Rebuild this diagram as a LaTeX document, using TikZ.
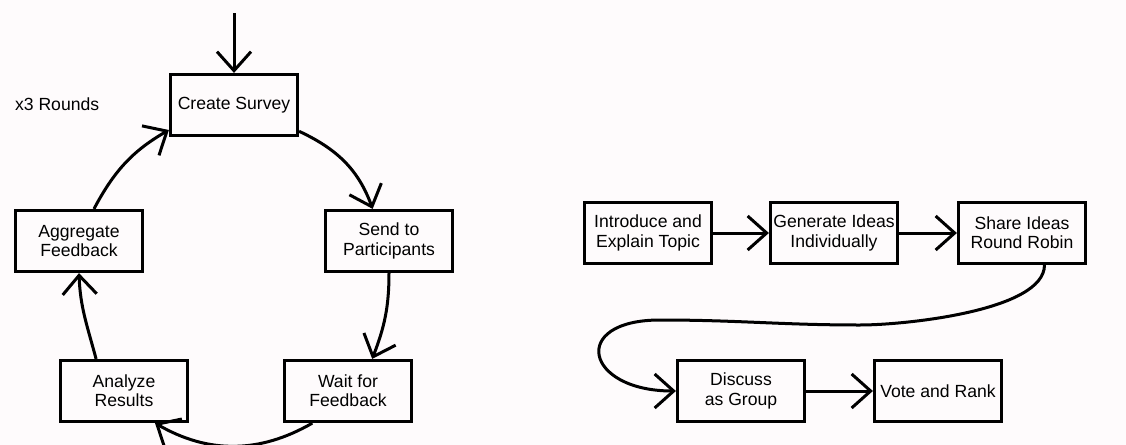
\documentclass[tikz,border=0pt]{standalone}
\usepackage{fontspec}
\setmainfont{Liberation Sans}
\usetikzlibrary{arrows.meta}
\definecolor{paper}{RGB}{254,251,252}

\begin{document}
\begin{tikzpicture}[x=0.5pt,y=0.5pt,font=\fontsize{8.8}{9.6}\selectfont,
	box/.style={rectangle,draw=black,line width=1.6pt,minimum width=63.5pt,minimum height=30.5pt,inner sep=0pt,align=center},
	flow/.style={line width=1.5pt,-{Straight Barb[length=9.5pt,width=17pt]}}]
	\fill[paper] (0,0) rectangle (1126,-445);
	\useasboundingbox (0,0) rectangle (1126,-445);

	% survey loop
	\node[box,name=create] at (234,-105) {Create Survey};
	\node[box,name=send] at (389,-241) {Send to\\Participants};
	\node[box,name=wait] at (348,-391) {Wait for\\Feedback};
	\node[box,name=analyze] at (124,-391) {Analyze\\Results};
	\node[box,name=aggregate] at (79,-241) {Aggregate\\Feedback};
	\node[anchor=west,name=rounds] at (8,-104) {x3 Rounds};
	\coordinate (start) at (234,-13);

	\path[flow] (start) edge (create)
		(create.-22) edge[out=-25,in=110] (send.117)
		(send.south) edge[out=-90,in=69] (wait.53)
		(wait.-138) edge[out=-150,in=-30] (analyze.-46)
		(analyze.131) edge[out=105,in=-88] (aggregate.south)
		(aggregate.65) edge[out=62,in=-150] (create.-159);

	% idea session
	\node[box,name=intro] at (648,-233) {Introduce and\\Explain Topic};
	\node[box,name=generate, right of=intro, node distance=93pt] {Generate Ideas\\Individually};
	\node[box,name=share, right of=generate, node distance=94pt] {Share Ideas\\Round Robin};
	\node[box,name=discuss] at (741,-391) {Discuss\\as Group};
	\node[box,name=vote, right of=discuss, node distance=98.5pt] {Vote and Rank};
	\coordinate (wave1) at (860,-325);
	\coordinate (wave2) at (660,-320);

	\path[flow] (intro) edge (generate)
		(generate) edge (share)
		(discuss) edge (vote);
	\draw[flow] (share.-55) to[out=-90,in=0,looseness=0.6] (wave1)
		to[out=180,in=0] (wave2)
		to[out=180,in=180,looseness=3.2] (discuss.west);
\end{tikzpicture}
\end{document}
